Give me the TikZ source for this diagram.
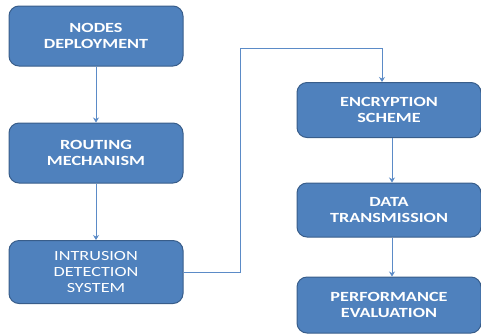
\documentclass[tikz,border=0pt]{standalone}
\usepackage{fontspec}
\setmainfont{Carlito}
\newfontfamily\stagefont[FakeStretch=1.3]{Carlito}
\usetikzlibrary{arrows.meta}

\definecolor{boxfill}{HTML}{4F81BD}
\definecolor{boxline}{HTML}{385D8A}
\definecolor{linkblue}{HTML}{5B8BC7}

\tikzset{
  stage/.style={draw=boxline, line width=1pt, fill=boxfill, rounded corners=10pt,
    text=white, align=center, font=\stagefont\fontsize{14}{16}\selectfont\bfseries,
    minimum width=174pt, minimum height=60pt, inner sep=0pt},
  link/.style={draw=linkblue, line width=1pt, -{Stealth[length=5pt,width=6pt]}}
}

\begin{document}
\begin{tikzpicture}[x=1pt, y=-1pt]
    \useasboundingbox (0,0) rectangle (481,333);
    % left column
    \node[stage] (deploy) at (96,36) {NODES\\DEPLOYMENT};
    \node[stage] (routing) at (96,153) {ROUTING\\MECHANISM};
    \node[stage, minimum height=63pt, font=\stagefont\fontsize{14}{16}\selectfont] (ids) at (96,272) {INTRUSION\\DETECTION\\SYSTEM};
    % right column
    \node[stage, minimum width=184pt, minimum height=55pt] (encrypt) at (389,110) {ENCRYPTION\\SCHEME};
    \node[stage, minimum width=184pt, minimum height=54pt] (transmit) at (389,210) {DATA\\TRANSMISSION};
    \node[stage, minimum width=184pt, minimum height=56pt] (perf) at (389,305) {PERFORMANCE\\EVALUATION};

    % links
    \draw[link] (deploy) -- (routing);
    \draw[link] (routing) -- (ids);
    \coordinate (bend) at (240,48);
    \draw[link] (ids.east) -| (bend) -| ([xshift=-7pt]encrypt.north);
    \draw[link] ([xshift=3pt]encrypt.south) -- ([xshift=3pt]transmit.north);
    \draw[link] ([xshift=3pt]transmit.south) -- ([xshift=3pt]perf.north);
\end{tikzpicture}
\end{document}
